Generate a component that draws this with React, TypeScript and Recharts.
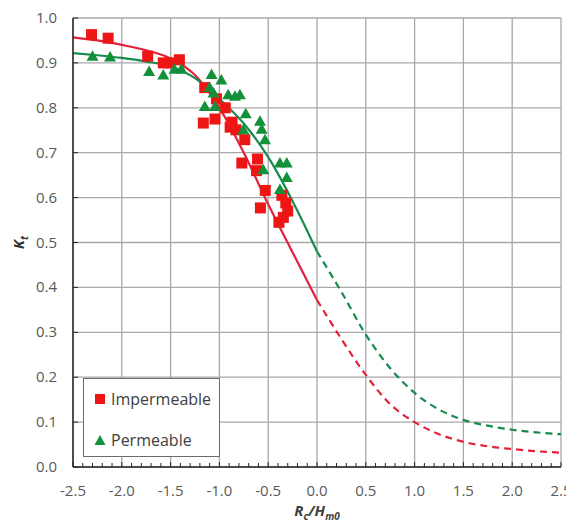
import React from 'react';
import { ComposedChart, Line, Scatter, XAxis, YAxis, CartesianGrid, Legend } from 'recharts';

// ---------- tick values ----------
const xMajorTicks = [-2.5, -2.0, -1.5, -1.0, -0.5, 0.0, 0.5, 1.0, 1.5, 2.0, 2.5];
const xAllTicks = [
  -2.5, -2.4, -2.3, -2.2, -2.1, -2.0, -1.9, -1.8, -1.7, -1.6,
  -1.5, -1.4, -1.3, -1.2, -1.1, -1.0, -0.9, -0.8, -0.7, -0.6,
  -0.5, -0.4, -0.3, -0.2, -0.1, 0.0, 0.1, 0.2, 0.3, 0.4,
  0.5, 0.6, 0.7, 0.8, 0.9, 1.0, 1.1, 1.2, 1.3, 1.4,
  1.5, 1.6, 1.7, 1.8, 1.9, 2.0, 2.1, 2.2, 2.3, 2.4, 2.5,
];
const yTicks = [0.0, 0.1, 0.2, 0.3, 0.4, 0.5, 0.6, 0.7, 0.8, 0.9, 1.0];

// ---------- measured points ----------
const impermeable = [
  { x: -2.31, y: 0.963 }, { x: -2.14, y: 0.955 }, { x: -1.735, y: 0.915 },
  { x: -1.575, y: 0.9 }, { x: -1.51, y: 0.9 }, { x: -1.41, y: 0.907 },
  { x: -1.15, y: 0.845 }, { x: -1.03, y: 0.82 }, { x: -0.94, y: 0.8 },
  { x: -1.165, y: 0.766 }, { x: -1.045, y: 0.775 }, { x: -0.87, y: 0.768 },
  { x: -0.89, y: 0.757 }, { x: -0.83, y: 0.751 }, { x: -0.74, y: 0.729 },
  { x: -0.77, y: 0.677 }, { x: -0.61, y: 0.686 }, { x: -0.62, y: 0.66 },
  { x: -0.53, y: 0.616 }, { x: -0.58, y: 0.577 }, { x: -0.36, y: 0.605 },
  { x: -0.32, y: 0.588 }, { x: -0.3, y: 0.57 }, { x: -0.345, y: 0.556 },
  { x: -0.39, y: 0.545 },
];
const permeable = [
  { x: -2.3, y: 0.915 }, { x: -2.12, y: 0.913 }, { x: -1.72, y: 0.881 },
  { x: -1.575, y: 0.873 }, { x: -1.46, y: 0.886 }, { x: -1.39, y: 0.886 },
  { x: -1.08, y: 0.874 }, { x: -0.98, y: 0.862 }, { x: -1.1, y: 0.845 },
  { x: -1.06, y: 0.833 }, { x: -1.15, y: 0.803 }, { x: -1.045, y: 0.803 },
  { x: -0.91, y: 0.829 }, { x: -0.84, y: 0.826 }, { x: -0.79, y: 0.829 },
  { x: -0.73, y: 0.787 }, { x: -0.755, y: 0.751 }, { x: -0.584, y: 0.77 },
  { x: -0.567, y: 0.752 }, { x: -0.533, y: 0.729 }, { x: -0.55, y: 0.662 },
  { x: -0.38, y: 0.677 }, { x: -0.31, y: 0.677 }, { x: -0.31, y: 0.645 },
  { x: -0.38, y: 0.618 },
];

// ---------- fitted curves ----------
const redFitSolid = [
  { x: -2.5, y: 0.957 }, { x: -2.25, y: 0.95 }, { x: -2.0, y: 0.94 },
  { x: -1.75, y: 0.928 }, { x: -1.5, y: 0.91 }, { x: -1.25, y: 0.873 },
  { x: -1.0, y: 0.8 }, { x: -0.75, y: 0.7 }, { x: -0.5, y: 0.585 },
  { x: -0.25, y: 0.478 }, { x: 0.0, y: 0.372 },
];
const redFitDashed = [
  { x: 0.0, y: 0.372 }, { x: 0.25, y: 0.285 }, { x: 0.5, y: 0.205 },
  { x: 0.75, y: 0.14 }, { x: 1.0, y: 0.1 }, { x: 1.25, y: 0.073 },
  { x: 1.5, y: 0.056 }, { x: 1.75, y: 0.046 }, { x: 2.0, y: 0.04 },
  { x: 2.25, y: 0.035 }, { x: 2.5, y: 0.032 },
];
const greenFitSolid = [
  { x: -2.5, y: 0.922 }, { x: -2.25, y: 0.917 }, { x: -2.0, y: 0.911 },
  { x: -1.75, y: 0.903 }, { x: -1.5, y: 0.892 }, { x: -1.25, y: 0.866 },
  { x: -1.0, y: 0.82 }, { x: -0.75, y: 0.765 }, { x: -0.5, y: 0.69 },
  { x: -0.25, y: 0.592 }, { x: 0.0, y: 0.48 },
];
const greenFitDashed = [
  { x: 0.0, y: 0.48 }, { x: 0.25, y: 0.39 }, { x: 0.5, y: 0.295 },
  { x: 0.75, y: 0.22 }, { x: 1.0, y: 0.165 }, { x: 1.25, y: 0.128 },
  { x: 1.5, y: 0.105 }, { x: 1.75, y: 0.092 }, { x: 2.0, y: 0.083 },
  { x: 2.25, y: 0.077 }, { x: 2.5, y: 0.073 },
];

// ---------- styles ----------
const FONT = '"Open Sans", "Liberation Sans", sans-serif';
const LABEL_COLOR = '#595959';
const AXIS_COLOR = '#262626';
const RED_MARK = '#EE1515';
const RED_LINE = '#E3213A';
const GREEN_MARK = '#13913A';
const GREEN_LINE = '#178A4E';
const X_TICK_MARGIN = 10;
const Y_TICK_MARGIN = 16;

const XTick = (props: any) => {
  const { x, y, payload } = props;
  const axisY = y - X_TICK_MARGIN;
  const v = payload.value as number;
  const major = xMajorTicks.includes(v);
  return (
    <g>
      <line x1={x} x2={x} y1={axisY} y2={axisY - (major ? 5 : 4)} stroke={AXIS_COLOR} strokeWidth={1} />
      {major && (
        <text x={x} y={axisY + 29} textAnchor="middle" fill={LABEL_COLOR} fontSize={15} fontFamily={FONT}>
          {v.toFixed(1)}
        </text>
      )}
    </g>
  );
};

const YTick = (props: any) => {
  const { x, y, payload } = props;
  const axisX = x + Y_TICK_MARGIN;
  const v = payload.value as number;
  return (
    <g>
      <line x1={axisX} x2={axisX + 5} y1={y} y2={y} stroke={AXIS_COLOR} strokeWidth={1} />
      <text x={x} y={y + 5} textAnchor="end" fill={LABEL_COLOR} fontSize={15} fontFamily={FONT}>
        {v.toFixed(1)}
      </text>
    </g>
  );
};

const SquareShape = (props: any) => {
  const { cx, cy } = props;
  return <rect x={cx - 5.5} y={cy - 5.5} width={11} height={11} fill={RED_MARK} />;
};

const TriangleShape = (props: any) => {
  const { cx, cy } = props;
  return (
    <polygon
      points={`${cx},${cy - 6} ${cx + 6},${cy + 4.5} ${cx - 6},${cy + 4.5}`}
      fill={GREEN_MARK}
    />
  );
};

const XLabel = (props: any) => {
  const vb = props.viewBox || {};
  const cx = vb.x + vb.width / 2;
  return (
    <text x={cx} y={508} textAnchor="middle" fill="#404040" fontFamily={FONT} fontWeight="bold" fontStyle="italic" fontSize={15}>
      <tspan>R</tspan>
      <tspan fontSize={10} dy={4}>c</tspan>
      <tspan dy={-4}>/H</tspan>
      <tspan fontSize={10} dy={4}>m0</tspan>
    </text>
  );
};

const YLabel = (props: any) => {
  const vb = props.viewBox || {};
  const cy = vb.y + vb.height / 2;
  return (
    <text x={0} y={0} transform={`translate(16, ${cy}) rotate(-90)`} textAnchor="middle" fill="#333333" fontFamily={FONT} fontWeight="bold" fontStyle="italic" fontSize={15}>
      <tspan>K</tspan>
      <tspan fontSize={10} dy={4}>t</tspan>
    </text>
  );
};

const LegendBox = (props: any) => {
  const items = (props.payload || []).filter((p: any) => p.type !== 'none');
  return (
    <div
      style={{
        position: 'relative',
        width: 137,
        height: 79,
        boxSizing: 'border-box',
        border: '1.3px solid #6b6b6b',
        background: '#ffffff',
        fontFamily: FONT,
        fontSize: 16,
        color: '#404040',
      }}
    >
      {items.map((it: any, i: number) => (
        <div
          key={it.value}
          style={{ position: 'absolute', left: 10, top: 8 + i * 41, height: 24, display: 'flex', alignItems: 'center', whiteSpace: 'nowrap' }}
        >
          <svg width={12} height={12} style={{ marginRight: 5 }}>
            {it.type === 'triangle' ? (
              <polygon points="6,1 11.5,11 0.5,11" fill={GREEN_MARK} />
            ) : (
              <rect x={1} y={1} width={10} height={10} fill={RED_MARK} />
            )}
          </svg>
          <span>{it.value}</span>
        </div>
      ))}
    </div>
  );
};

export default function App() {
  return (
    <ComposedChart
      width={566}
      height={521}
      margin={{ top: 10, right: 13, bottom: 0, left: 0 }}
      style={{ fontFamily: FONT }}
    >
      <CartesianGrid
        stroke="#a8a8a8"
        strokeWidth={1.3}
        verticalValues={xMajorTicks}
        horizontalValues={yTicks}
      />
      <XAxis
        type="number"
        dataKey="x"
        domain={[-2.5, 2.5]}
        ticks={xAllTicks}
        interval={0}
        allowDataOverflow
        height={62}
        tickSize={0}
        tickMargin={X_TICK_MARGIN}
        tickLine={false}
        tick={XTick}
        axisLine={{ stroke: AXIS_COLOR, strokeWidth: 1.5 }}
        label={XLabel}
      />
      <XAxis
        xAxisId="top"
        orientation="top"
        type="number"
        domain={[-2.5, 2.5]}
        height={0}
        tick={false}
        tickLine={false}
        axisLine={{ stroke: AXIS_COLOR, strokeWidth: 1.5 }}
      />
      <YAxis
        type="number"
        dataKey="y"
        domain={[0, 1]}
        ticks={yTicks}
        interval={0}
        allowDataOverflow
        width={65}
        tickSize={0}
        tickMargin={Y_TICK_MARGIN}
        tickLine={false}
        tick={YTick}
        axisLine={{ stroke: AXIS_COLOR, strokeWidth: 1.5 }}
        label={YLabel}
      />
      <YAxis
        yAxisId="right"
        orientation="right"
        type="number"
        domain={[0, 1]}
        width={0}
        tick={false}
        tickLine={false}
        axisLine={{ stroke: AXIS_COLOR, strokeWidth: 1.5 }}
      />
      <Scatter name="Impermeable" data={impermeable} dataKey="y" legendType="square" fill={RED_MARK} shape={SquareShape} isAnimationActive={false} />
      <Scatter name="Permeable" data={permeable} dataKey="y" legendType="triangle" fill={GREEN_MARK} shape={TriangleShape} isAnimationActive={false} />
      <Line data={redFitSolid} dataKey="y" type="monotone" stroke={RED_LINE} strokeWidth={2.2} dot={false} activeDot={false} legendType="none" isAnimationActive={false} />
      <Line data={redFitDashed} dataKey="y" type="monotone" stroke={RED_LINE} strokeWidth={2.2} strokeDasharray="7 5" dot={false} activeDot={false} legendType="none" isAnimationActive={false} />
      <Line data={greenFitSolid} dataKey="y" type="monotone" stroke={GREEN_LINE} strokeWidth={2.2} dot={false} activeDot={false} legendType="none" isAnimationActive={false} />
      <Line data={greenFitDashed} dataKey="y" type="monotone" stroke={GREEN_LINE} strokeWidth={2.2} strokeDasharray="7 5" dot={false} activeDot={false} legendType="none" isAnimationActive={false} />
      <Legend
        layout="horizontal"
        verticalAlign="middle"
        align="center"
        content={LegendBox}
        wrapperStyle={{ position: 'absolute', left: 75, top: 370, width: 137, height: 79 }}
      />
    </ComposedChart>
  );
}
